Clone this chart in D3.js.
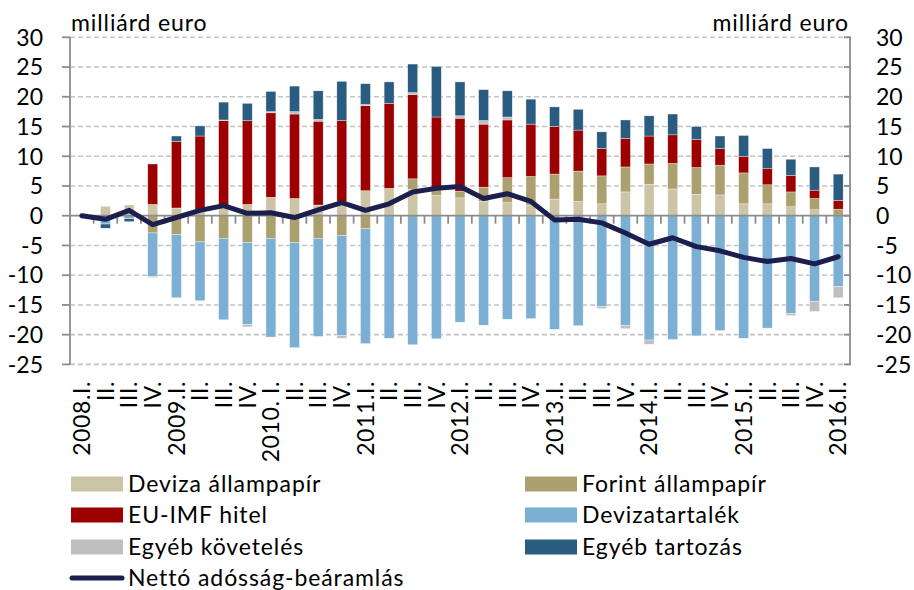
<!DOCTYPE html>
<html><head><meta charset="utf-8">
<script src="https://cdn.jsdelivr.net/npm/d3@7"></script>
<style>body{margin:0;background:#fff;} text{font-family:Lato, "Noto Sans", sans-serif;fill:#000;}</style>
</head><body><svg id="c" width="914" height="590"></svg>
<script>
const categories = ["2008.I.","II.","III.","IV.","2009.I.","II.","III.","IV.","2010. I.","II.","III.","IV.","2011.I.","II.","III.","IV.","2012.I.","II.","III.","IV.","2013.I.","II.","III.","IV.","2014.I.","II.","III.","IV.","2015.I.","II.","III.","IV.","2016.I."];
const devizaAllampapir = [0,1.6,1.8,1.9,1.3,1.0,1.8,1.9,3.1,2.9,1.8,2.4,4.2,4.6,4.4,3.4,3.0,2.4,2.2,1.8,2.8,2.4,2.0,4.0,5.3,4.5,3.6,3.5,2.0,2.0,1.5,1.0,0.1];
const forintAllampapir = [0,0,0,-2.9,-3.2,-4.4,-3.8,-4.5,-3.8,-4.5,-3.8,-3.3,-2.2,0,1.8,1.1,1.1,2.4,4.2,4.8,4.2,5.1,4.7,4.2,3.4,4.3,4.5,5.0,5.2,3.2,2.5,1.9,1.0];
const euImfHitel = [0,0,0,6.8,11.2,12.4,14.2,14.1,14.2,14.2,14.1,13.6,14.3,14.3,14.2,12.1,12.3,10.6,9.7,8.8,8.0,6.9,4.6,4.8,4.7,4.8,4.7,2.8,2.8,2.7,2.8,1.4,1.5];
const devizatartalek = [0,-1.4,-0.5,-7.3,-10.6,-9.9,-13.7,-13.8,-16.6,-17.7,-16.5,-16.8,-19.3,-20.6,-21.7,-20.7,-17.9,-18.4,-17.4,-17.3,-19.1,-18.5,-15.3,-18.5,-20.9,-20.8,-20.2,-19.3,-20.6,-18.9,-16.4,-14.4,-11.9];
const egyebKoveteles = [0,0,0,-0.2,0,0,0.1,-0.4,0.2,0.4,0.3,-0.5,0.2,0,0.3,0,0.4,0.6,0.5,0,0,0,-0.3,-0.5,-0.7,0,0,0,0,0,-0.4,-1.7,-1.9];
const egyebTartozas = [0,-0.7,-0.5,0,0.9,1.7,3.0,2.9,3.4,4.3,4.8,6.6,3.5,3.6,4.8,8.5,5.7,5.2,4.4,4.2,3.3,3.5,2.8,3.1,3.4,3.5,2.2,2.1,3.5,3.4,2.7,3.9,4.4];
const nettoAdossag = [0,-0.6,0.9,-1.5,-0.3,0.9,1.7,0.4,0.5,-0.3,1.0,2.2,0.9,2.0,4.0,4.6,4.9,2.9,3.7,2.4,-0.7,-0.6,-1.2,-2.9,-4.8,-3.7,-5.2,-5.9,-7.0,-7.7,-7.2,-8.1,-6.9];
const yTicks = [30,25,20,15,10,5,0,-5,-10,-15,-20,-25];

const seriesNames = ["Deviza állampapír","Forint állampapír","EU-IMF hitel","Devizatartalék","Egyéb követelés","Egyéb tartozás"];
const seriesData = [devizaAllampapir,forintAllampapir,euImfHitel,devizatartalek,egyebKoveteles,egyebTartozas];
const colors = ["#CCC4A6","#ADA06F","#9C0000","#7BAFD4","#BFBFBF","#2A5B80"];
const lineName = "Nettó adósság-beáramlás";
const lineColor = "#1C1F4D";

const svg = d3.select("#c");
const L = 70, R = 850, T = 37.3, B = 364.4;
const x = d3.scaleBand().domain(d3.range(categories.length)).range([L,R]).paddingInner(0.58).paddingOuter(0.29);
const y = d3.scaleLinear().domain([-25,30]).range([B,T]);
const step = x.step();

// gridlines
svg.append("g").selectAll("line").data(yTicks.filter(d=>d!==0)).join("line")
  .attr("x1",L).attr("x2",R).attr("y1",d=>y(d)).attr("y2",d=>y(d))
  .attr("stroke","#C3C3C3").attr("stroke-width",1.6).attr("stroke-dasharray","5,3");

// stacked bars
const table = categories.map((c,i)=>{const o={i}; seriesNames.forEach((s,k)=>o[s]=seriesData[k][i]); return o;});
const stack = d3.stack().keys(seriesNames).offset(d3.stackOffsetDiverging)(table);
svg.append("g").selectAll("g").data(stack).join("g").attr("fill",(d,k)=>colors[k])
  .selectAll("rect").data(d=>d).join("rect")
  .attr("x",d=>x(d.data.i)).attr("width",x.bandwidth())
  .attr("y",d=>y(Math.max(d[0],d[1]))).attr("height",d=>Math.abs(y(d[0])-y(d[1])))
  .attr("stroke","#fff").attr("stroke-width",0.5).attr("stroke-opacity",0.7);

// axes
const axisColor = "#8C8C8C";
const ax = svg.append("g").attr("stroke",axisColor).attr("stroke-width",1.8);
ax.append("line").attr("x1",L).attr("x2",L).attr("y1",T).attr("y2",B);
ax.append("line").attr("x1",R).attr("x2",R).attr("y1",T).attr("y2",B);
ax.append("line").attr("x1",L).attr("x2",R).attr("y1",y(0)).attr("y2",y(0));
ax.selectAll(".lt").data(yTicks).join("line").attr("x1",L-8).attr("x2",L).attr("y1",d=>y(d)).attr("y2",d=>y(d));
ax.selectAll(".rt").data(yTicks).join("line").attr("class","rt").attr("x1",R-6).attr("x2",R+1).attr("y1",d=>y(d)).attr("y2",d=>y(d));
ax.selectAll(".ct").data(d3.range(categories.length+1)).join("line").attr("class","ct")
  .attr("x1",k=>L+k*step).attr("x2",k=>L+k*step).attr("y1",y(0)).attr("y2",y(0)+8);

// line
const line = d3.line().x((d,i)=>x(i)+x.bandwidth()/2).y(d=>y(d));
svg.append("path").datum(nettoAdossag).attr("d",line).attr("fill","none")
  .attr("stroke",lineColor).attr("stroke-width",5).attr("stroke-linejoin","round").attr("stroke-linecap","round");

// tick labels
const fs = 23;
svg.append("g").selectAll("text").data(yTicks).join("text").attr("x",43).attr("y",d=>y(d)).attr("dy","0.36em")
  .attr("text-anchor","end").attr("font-size",fs).text(d=>d);
svg.append("g").selectAll("text").data(yTicks).join("text").attr("x",876).attr("y",d=>y(d)).attr("dy","0.36em")
  .attr("text-anchor","start").attr("font-size",fs).text(d=>d);
svg.append("g").selectAll("text").data(categories).join("text")
  .attr("transform",(d,i)=>`translate(${x(i)+x.bandwidth()/2},381) rotate(-90)`)
  .attr("dy","0.36em").attr("text-anchor","end").attr("font-size",fs).attr("letter-spacing","0.6px").text(d=>d);

svg.append("text").attr("x",71).attr("y",31).attr("font-size",fs).attr("letter-spacing","0.9px").text("milliárd euro");
svg.append("text").attr("x",849).attr("y",31).attr("text-anchor","end").attr("font-size",fs).attr("letter-spacing","0.9px").text("milliárd euro");

// legend
const legPos = [[71,484],[525,484],[71,515],[525,515],[71,547],[525,547]];
const lg = svg.append("g");
seriesNames.forEach((s,k)=>{
  const [lx,ly] = legPos[k];
  lg.append("rect").attr("x",lx).attr("y",ly-7.5).attr("width",52).attr("height",15).attr("fill",colors[k]);
  lg.append("text").attr("x",lx+57).attr("y",ly).attr("dy","0.36em").attr("font-size",fs).attr("letter-spacing","0.9px").text(s);
});
lg.append("line").attr("x1",72).attr("x2",122).attr("y1",578).attr("y2",578).attr("stroke",lineColor).attr("stroke-width",5).attr("stroke-linecap","round");
lg.append("text").attr("x",128).attr("y",578).attr("dy","0.36em").attr("font-size",fs).attr("letter-spacing","0.9px").text(lineName);
</script></body></html>
